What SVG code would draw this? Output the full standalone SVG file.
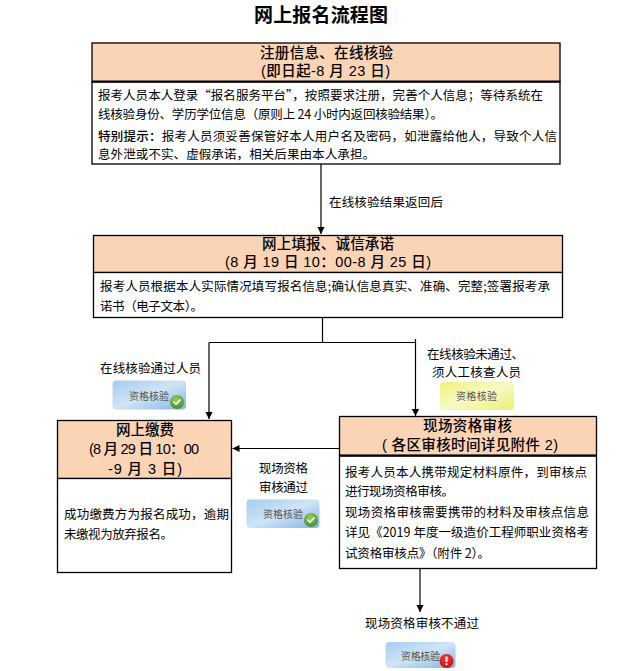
<svg xmlns="http://www.w3.org/2000/svg" width="641" height="671" viewBox="0 0 641 671">
<style>
text{font-family:"Noto Sans CJK SC","Liberation Sans",sans-serif;fill:#000}
.title{font-size:19px;font-weight:700}
.h{font-family:"Liberation Sans","Noto Sans CJK SC",sans-serif;font-size:14.5px;font-weight:500}
.b{font-size:12.5px}
.btn{font-size:10px;fill:#555}
.box{fill:#fff;stroke:#000;stroke-width:1.3}
.head{fill:#fbd3b5;stroke:#000;stroke-width:1.3}
.conn{fill:none;stroke:#000;stroke-width:1.2}
.mark{fill:none;stroke:#fff;stroke-width:1.7;stroke-linecap:round;stroke-linejoin:round}
</style>
<defs>
<marker id="arrow" markerUnits="userSpaceOnUse" markerWidth="8" markerHeight="8" refX="7" refY="4" orient="auto"><path d="M0 0.4L7 4L0 7.6Z" fill="#000"/></marker>
<linearGradient id="blue" x1="0" y1="0" x2="1" y2="1"><stop offset="0" stop-color="#a4cdf0"/><stop offset=".5" stop-color="#d0e4f5"/><stop offset="1" stop-color="#7eb2e6"/></linearGradient>
<linearGradient id="yellow" x1="0" y1="0" x2="1" y2="1"><stop offset="0" stop-color="#eef27c"/><stop offset=".5" stop-color="#f8f9c4"/><stop offset="1" stop-color="#ecf070"/></linearGradient>
<radialGradient id="green" cx=".45" cy=".3" r=".8"><stop offset="0" stop-color="#9ccc50"/><stop offset="1" stop-color="#2f8a24"/></radialGradient>
<radialGradient id="red" cx=".45" cy=".3" r=".8"><stop offset="0" stop-color="#f0403c"/><stop offset="1" stop-color="#c4080c"/></radialGradient>
</defs>

<g id="connectors">
<path class="conn" d="M321 164V234" marker-end="url(#arrow)"/>
<path class="conn" d="M322.500 318V342.500"/>
<path class="conn" d="M209 342.500H415.500"/>
<path class="conn" d="M209 342.500V419" marker-end="url(#arrow)"/>
<path class="conn" d="M415.500 339V416" marker-end="url(#arrow)"/>
<path class="conn" d="M339 448.500H232.500" marker-end="url(#arrow)"/>
<path class="conn" d="M420 568V612" marker-end="url(#arrow)"/>
</g>

<text id="title" class="title" x="254" y="22" textLength="134">网上报名流程图</text>

<g id="node-register">
<rect class="head" x="92" y="43" width="468" height="39"/>
<rect class="box" x="92" y="82" width="468" height="82"/>
<path d="M92 81.500H560" stroke="#000" stroke-width="2"/>
<text class="h" x="260" y="57.500" textLength="133">注册信息、在线核验</text>
<text class="h" x="261" y="76" textLength="129">(即日起-8 月 23 日)</text>
<text class="b" x="98" y="100" textLength="445">报考人员本人登录“报名服务平台”，按照要求注册，完善个人信息；等待系统在</text>
<text class="b" x="98" y="119" textLength="345">线核验身份、学历学位信息（原则上 24 小时内返回核验结果）。</text>
<text class="b" x="98" y="141" textLength="459"><tspan font-weight="500">特别提示：</tspan>报考人员须妥善保管好本人用户名及密码，如泄露给他人，导致个人信</text>
<text class="b" x="98" y="159" textLength="277">息外泄或不实、虚假承诺，相关后果由本人承担。</text>
</g>

<text id="label-return" class="b" x="329" y="206.500" textLength="114">在线核验结果返回后</text>

<g id="node-fill">
<rect class="head" x="93.500" y="235.500" width="469" height="37"/>
<rect class="box" x="93.500" y="272.500" width="469" height="45"/>
<text class="h" x="262" y="249" textLength="132">网上填报、诚信承诺</text>
<text class="h" x="225" y="267" textLength="206">(8 月 19 日 10：00-8 月 25 日)</text>
<text class="b" x="100" y="291" textLength="450">报考人员根据本人实际情况填写报名信息;确认信息真实、准确、完整;签署报考承</text>
<text class="b" x="100" y="310.500" textLength="103">诺书（电子文本）。</text>
</g>

<g id="status-pass-online">
<text class="b" x="100" y="372.500" textLength="101">在线核验通过人员</text>
<rect x="112.500" y="380.500" width="73.500" height="29" rx="4" fill="url(#blue)"/>
<text class="btn" x="129" y="399.500" textLength="40">资格核验</text>
<circle cx="177" cy="402" r="7" fill="url(#green)"/>
<path class="mark" d="M173.800 402L176 404.200L180 400"/>
</g>

<g id="status-manual">
<text class="b" x="427" y="358.500" textLength="97">在线核验未通过、</text>
<text class="b" x="432" y="376.500" textLength="89">须人工核查人员</text>
<rect x="440" y="382" width="74" height="28" rx="4" fill="url(#yellow)"/>
<text class="btn" x="456" y="400" textLength="41">资格核验</text>
</g>

<g id="node-pay">
<rect class="head" x="57.500" y="420.500" width="174" height="58"/>
<rect class="box" x="57.500" y="478.500" width="174" height="94"/>
<text class="h" x="116" y="435" textLength="58">网上缴费</text>
<text class="h" x="89" y="454" textLength="110">(8 月 29 日 10：00</text>
<text class="h" x="108" y="474" textLength="74">-9 月 3 日)</text>
<text class="b" x="64" y="519" textLength="165">成功缴费方为报名成功，逾期</text>
<text class="b" x="64" y="539" textLength="109">未缴视为放弃报名。</text>
</g>

<g id="status-pass-site">
<text class="b" x="259" y="473" textLength="49">现场资格</text>
<text class="b" x="259" y="491.500" textLength="49">审核通过</text>
<rect x="246.500" y="499.500" width="73" height="28.500" rx="4" fill="url(#blue)"/>
<text class="btn" x="263" y="518" textLength="40">资格核验</text>
<circle cx="311" cy="520" r="7" fill="url(#green)"/>
<path class="mark" d="M307.800 520L310 522.200L314 518"/>
</g>

<g id="node-site">
<rect class="head" x="339.500" y="416.500" width="257" height="39"/>
<rect class="box" x="339.500" y="456" width="257" height="112.500"/>
<path d="M339.500 455.500H596.500" stroke="#000" stroke-width="2"/>
<text class="h" x="423" y="431" textLength="89">现场资格审核</text>
<text class="h" x="382" y="450" textLength="176">( 各区审核时间详见附件 2)</text>
<text class="b" x="345" y="476.500" textLength="242">报考人员本人携带规定材料原件，到审核点</text>
<text class="b" x="345" y="495.500" textLength="109">进行现场资格审核。</text>
<text class="b" x="345" y="517" textLength="244">现场资格审核需要携带的材料及审核点信息</text>
<text class="b" x="345" y="537" textLength="244">详见《2019 年度一级造价工程师职业资格考</text>
<text class="b" x="345" y="557.500" textLength="145">试资格审核点》（附件 2）。</text>
</g>

<g id="status-fail-site">
<text class="b" x="365" y="627.500" textLength="114">现场资格审核不通过</text>
<rect x="385.500" y="642" width="70" height="26" rx="4" fill="url(#blue)"/>
<text class="btn" x="401" y="659.500" textLength="39">资格核验</text>
<circle cx="446.500" cy="661" r="7" fill="url(#red)"/>
<rect x="445.600" y="656.500" width="1.900" height="5.500" fill="#fff"/>
<circle cx="446.500" cy="664.200" r="1.100" fill="#fff"/>
</g>
</svg>
